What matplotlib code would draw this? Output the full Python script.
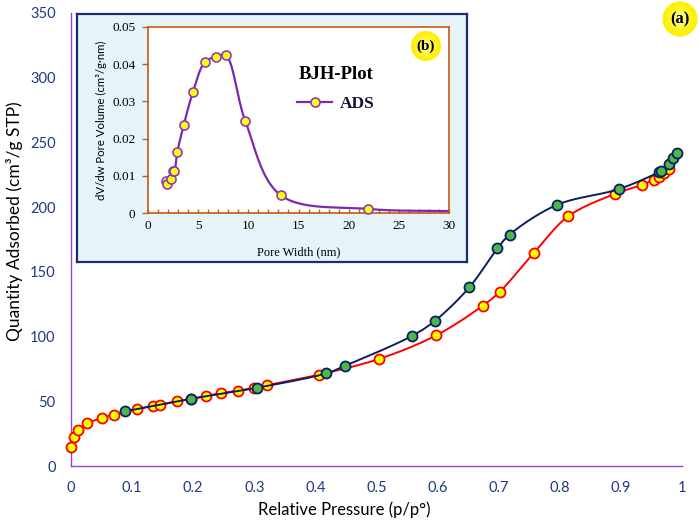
import numpy as np
import matplotlib
matplotlib.use("Agg")
import matplotlib.pyplot as plt
from matplotlib.lines import Line2D
from matplotlib.patches import Circle

# Isotherm - adsorption branch
ads_p = [0.0, 0.005, 0.012, 0.027, 0.050, 0.070, 0.108, 0.134, 0.145, 0.173, 0.197,
         0.221, 0.245, 0.274, 0.300, 0.320, 0.406, 0.504, 0.598, 0.674, 0.702, 0.757,
         0.814, 0.890, 0.935, 0.954, 0.962, 0.971, 0.979]
ads_q = [14.4, 22.6, 27.8, 33.0, 37.0, 39.7, 44.0, 46.4, 47.1, 50.0, 51.8,
         54.1, 56.2, 58.2, 60.3, 62.3, 70.6, 82.7, 101.0, 123.9, 134.7, 164.4,
         193.0, 210.2, 217.3, 221.3, 223.2, 226.0, 229.6]

# Isotherm - desorption branch
des_p = [0.089, 0.197, 0.305, 0.418, 0.448, 0.558, 0.596, 0.652, 0.698, 0.718,
         0.795, 0.897, 0.962, 0.966, 0.978, 0.986, 0.992]
des_q = [42.3, 52.0, 60.5, 71.6, 77.3, 100.5, 112.3, 138.1, 168.2, 178.8,
         201.7, 214.0, 227.0, 228.2, 233.6, 238.0, 242.1]

# BJH pore size distribution (last value only continues the line to the edge)
bjh_w = [1.79, 1.86, 2.26, 2.52, 2.62, 2.92, 3.56, 4.49, 5.65, 6.74, 7.74, 9.69, 13.22, 21.96, 30.5]
bjh_v = [0.0086, 0.0078, 0.0091, 0.0114, 0.0112, 0.0164, 0.0236, 0.0326, 0.0405, 0.0420,
         0.0424, 0.0248, 0.0048, 0.0011, 0.0005]

xticks = [0, 0.1, 0.2, 0.3, 0.4, 0.5, 0.6, 0.7, 0.8, 0.9, 1]
xtick_labels = ["0", "0.1", "0.2", "0.3", "0.4", "0.5", "0.6", "0.7", "0.8", "0.9", "1"]
yticks = [0, 50, 100, 150, 200, 250, 300, 350]
bjh_yticks = [0, 0.01, 0.02, 0.03, 0.04, 0.05]
bjh_ytick_labels = ["0", "0.01", "0.02", "0.03", "0.04", "0.05"]


def smooth(x, y, sx, sy, n=25):
    # centripetal catmull-rom through the points (like excel "smoothed line")
    pts = np.column_stack([np.asarray(x) * sx, np.asarray(y) * sy])
    pts = np.vstack([2 * pts[0] - pts[1], pts, 2 * pts[-1] - pts[-2]])
    out = []
    for i in range(1, len(pts) - 2):
        p0, p1, p2, p3 = pts[i - 1:i + 3]
        t0 = 0.0
        t1 = t0 + max(np.linalg.norm(p1 - p0), 1e-6) ** 0.5
        t2 = t1 + max(np.linalg.norm(p2 - p1), 1e-6) ** 0.5
        t3 = t2 + max(np.linalg.norm(p3 - p2), 1e-6) ** 0.5
        t = np.linspace(t1, t2, n)[:, None]
        a1 = (t1 - t) / (t1 - t0) * p0 + (t - t0) / (t1 - t0) * p1
        a2 = (t2 - t) / (t2 - t1) * p1 + (t - t1) / (t2 - t1) * p2
        a3 = (t3 - t) / (t3 - t2) * p2 + (t - t2) / (t3 - t2) * p3
        b1 = (t2 - t) / (t2 - t0) * a1 + (t - t0) / (t2 - t0) * a2
        b2 = (t3 - t) / (t3 - t1) * a2 + (t - t1) / (t3 - t1) * a3
        out.append((t2 - t) / (t2 - t1) * b1 + (t - t1) / (t2 - t1) * b2)
    out = np.vstack(out)
    return out[:, 0] / sx, out[:, 1] / sy


def badge(fig, cx, cy, r, text, size):
    # yellow glossy circle label, position/radius in pixels from top-left
    for k in range(12):
        f = 1 - k / 12
        col = (1.0, 0.93 + 0.07 * (k / 11), 0.0 + 0.75 * (k / 11) ** 1.5)
        fig.add_artist(Circle((cx / 100, (526 - cy) / 100), r * f / 100,
                              transform=fig.dpi_scale_trans, fc=col, ec='none', zorder=2))
    fig.text(cx / 699, 1 - cy / 526, text, ha='center', va='center', fontsize=size,
             fontweight='bold', family=serif, zorder=3)


plt.rcParams['font.family'] = ['Lato', 'DejaVu Sans']
serif = ['Liberation Serif', 'DejaVu Serif']

fig = plt.figure(figsize=(6.99, 5.26), dpi=100)

# main isotherm
ax = fig.add_axes([71 / 699, 60 / 526, 611 / 699, 453 / 526])
ax.set_xlim(0, 1)
ax.set_ylim(0, 350)
for s in ['top', 'right']:
    ax.spines[s].set_visible(False)
for s in ['left', 'bottom']:
    ax.spines[s].set_color('#9b3fd0')
    ax.spines[s].set_linewidth(1.0)
ax.set_xticks(xticks)
ax.set_xticklabels(xtick_labels)
ax.set_yticks(yticks)
ax.tick_params(length=0, pad=11, labelsize=10.5, labelcolor='#1f3a80')
ax.set_xlabel('Relative Pressure (p/p°)', fontsize=12)
ax.set_ylabel('Quantity Adsorbed (cm³/g STP)', fontsize=12.5)
ax.xaxis.set_label_coords(0.448, -0.079)
ax.yaxis.set_label_coords(-0.079, 0.541)

xs, ys = smooth(ads_p, ads_q, 611, 1.294)
ax.plot(xs, ys, color='#ff0000', lw=1.4, zorder=2)
ax.plot(ads_p, ads_q, ls='none', marker='o', ms=7.2, mfc='#ffff00', mec='#ff0000',
        mew=1.3, clip_on=False, zorder=3)
xs, ys = smooth(des_p, des_q, 611, 1.294)
ax.plot(xs, ys, color='#0a1f63', lw=1.4, zorder=4)
ax.plot(des_p, des_q, ls='none', marker='o', ms=7.2, mfc='#4cb848', mec='#0a1f63',
        mew=1.3, clip_on=False, zorder=5)

# inset frame
box = fig.add_axes([77 / 699, 264 / 526, 390 / 699, 248 / 526])
box.set_facecolor('#e6f4f9')
box.set_xticks([])
box.set_yticks([])
for s in box.spines.values():
    s.set_color('#1c2a6e')
    s.set_linewidth(1.6)

ins = fig.add_axes([148 / 699, 313 / 526, 301 / 699, 186 / 526])
ins.set_facecolor('white')
for s in ins.spines.values():
    s.set_color('#c55a11')
    s.set_linewidth(1.2)
ins.set_xlim(0, 30)
ins.set_ylim(0, 0.05)
ins.set_xticks([0, 5, 10, 15, 20, 25, 30])
ins.set_xticks(np.arange(0, 31, 1), minor=True)
ins.set_yticks(bjh_yticks)
ins.set_yticklabels(bjh_ytick_labels)
ins.tick_params(axis='x', which='both', direction='in', color='#c55a11', length=3, width=1)
ins.tick_params(axis='y', which='both', direction='out', color='#c55a11', length=4, width=1)
ins.tick_params(which='major', labelsize=9.5, pad=5)
for lab in ins.get_xticklabels() + ins.get_yticklabels():
    lab.set_family(serif)
ins.set_xlabel('Pore Width (nm)', fontsize=9, family=serif, labelpad=10)
ins.set_ylabel('dV/dw Pore Volume (cm³/g·nm)', fontsize=8.2, labelpad=4)

xs, ys = smooth(bjh_w, bjh_v, 10.03, 3720)
ins.plot(xs, ys, color='#7a2ab0', lw=1.6, zorder=2)
ins.plot(bjh_w[:-1], bjh_v[:-1], ls='none', marker='o', ms=6.5, mfc='#ffff00',
         mec='#8a3cc4', mew=1.2, clip_on=False, zorder=3)

handle = Line2D([], [], color='#7a2ab0', lw=1.6, marker='o', ms=6.5,
                mfc='#ffff00', mec='#8a3cc4', mew=1.2)
leg = ins.legend([handle], ['ADS'], loc='center', bbox_to_anchor=(0.625, 0.667),
                 frameon=False, title='BJH-Plot', handlelength=2.0, handletextpad=0.45,
                 labelspacing=0.75, prop={'family': serif, 'weight': 'bold', 'size': 12.5})
leg.get_title().set_fontproperties({'family': serif, 'weight': 'bold', 'size': 13.5})
leg.get_texts()[0].set_color('#141438')

badge(fig, 680, 19, 17.5, '(a)', 12)
badge(fig, 426, 46, 15, '(b)', 11)

fig.savefig('out.png', dpi=100)
